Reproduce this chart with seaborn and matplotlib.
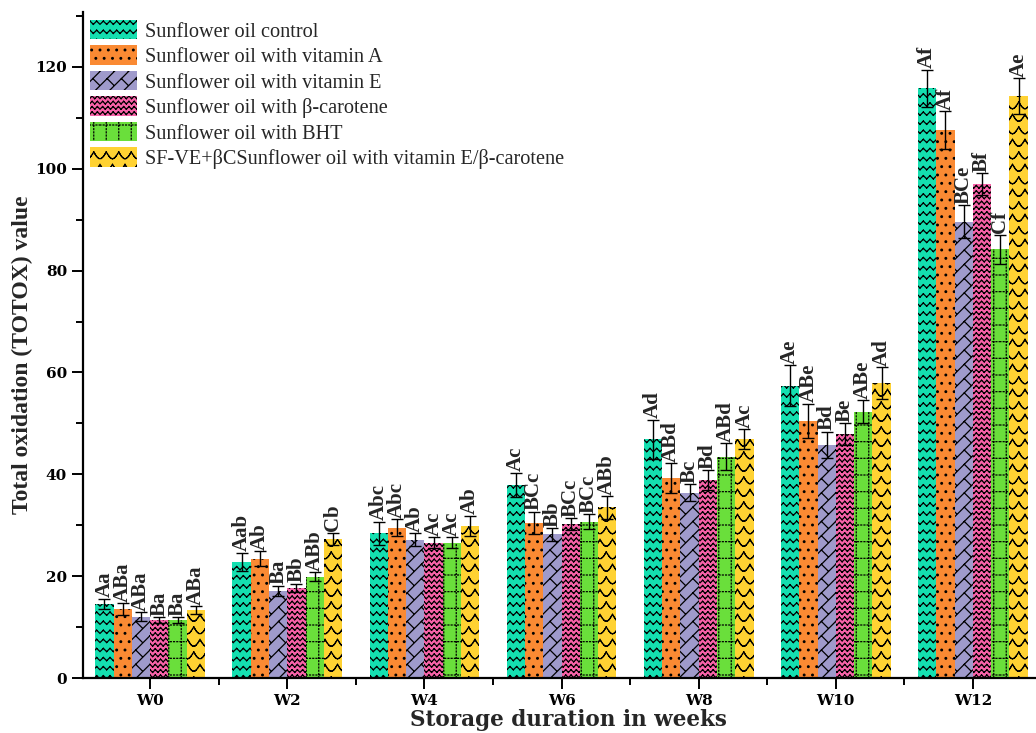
import warnings
import numpy as np
import pandas as pd
import matplotlib
matplotlib.use("Agg")
import matplotlib.pyplot as plt
import matplotlib.hatch as mhatch
from matplotlib.path import Path
from matplotlib.patches import Patch
from matplotlib.ticker import MultipleLocator, FixedLocator
import seaborn as sns

warnings.filterwarnings("ignore", message=".*hatch must consist.*")

# ---- data -------------------------------------------------------------
weeks = ["W0", "W2", "W4", "W6", "W8", "W10", "W12"]
groups = [
    "Sunflower oil control",
    "Sunflower oil with vitamin A",
    "Sunflower oil with vitamin E",
    "Sunflower oil with \u03b2-carotene",
    "Sunflower oil with BHT",
    "SF-VE+\u03b2CSunflower oil with vitamin E/\u03b2-carotene",
]

control = [14.6, 22.8, 28.4, 37.9, 46.9, 57.4, 115.8]
vit_a = [13.5, 23.4, 29.5, 30.5, 39.3, 50.5, 107.6]
vit_e = [12.0, 17.1, 27.2, 28.2, 36.4, 45.8, 89.6]
beta_car = [11.4, 17.7, 26.6, 30.2, 38.9, 47.9, 97.0]
bht = [11.4, 19.9, 26.6, 30.7, 43.5, 52.3, 84.2]
ve_bc = [13.3, 27.3, 29.9, 33.5, 46.9, 57.9, 114.3]

control_sd = [1.0, 1.8, 2.3, 2.4, 3.8, 4.0, 3.7]
vit_a_sd = [1.2, 1.5, 1.7, 2.2, 2.9, 3.4, 3.7]
vit_e_sd = [0.9, 1.0, 1.2, 1.2, 1.7, 2.6, 3.2]
beta_car_sd = [0.6, 0.8, 1.1, 1.2, 1.9, 2.1, 2.2]
bht_sd = [0.5, 0.9, 1.0, 1.5, 2.6, 2.3, 2.9]
ve_bc_sd = [0.8, 1.2, 2.0, 2.2, 2.0, 3.2, 3.5]

control_lbl = ["Aa", "Aab", "Abc", "Ac", "Ad", "Ae", "Af"]
vit_a_lbl = ["ABa", "Ab", "Abc", "BCc", "ABd", "ABe", "Af"]
vit_e_lbl = ["ABa", "Ba", "Ab", "Bb", "Bc", "Bd", "BCe"]
beta_car_lbl = ["Ba", "Bb", "Ac", "BCc", "Bd", "Be", "Bf"]
bht_lbl = ["Ba", "ABb", "Ac", "BCc", "ABd", "ABe", "Cf"]
ve_bc_lbl = ["ABa", "Cb", "Ab", "ABb", "Ac", "Ad", "Ae"]

values = [control, vit_a, vit_e, beta_car, bht, ve_bc]
errors = [control_sd, vit_a_sd, vit_e_sd, beta_car_sd, bht_sd, ve_bc_sd]
letters = [control_lbl, vit_a_lbl, vit_e_lbl, beta_car_lbl, bht_lbl, ve_bc_lbl]

colors = ["#14DFB0", "#FA8A33", "#9F9ACB", "#F862A8", "#6ADF3B", "#FFD233"]
# z: zigzag rows, .: dots, y: branched diagonals, w: herringbone,
# d: dotted grid, u: scallops
hatches = ["z", "..", "y", "w", "d", "u"]


# ---- extra hatch textures ----------------------------------------------
def _zigzag(rows, teeth, amp):
    segs = []
    xs = np.linspace(0, 1, 2 * teeth + 1)
    for i in range(rows):
        y0 = (i + 0.5) / rows
        ys = y0 + np.where(np.arange(len(xs)) % 2 == 0, -amp, amp)
        for k in range(len(xs) - 1):
            segs.append(((xs[k], ys[k]), (xs[k + 1], ys[k + 1])))
    return segs


def _branched_diagonals(n):
    segs = []
    stub = 0.45 / n
    for k in range(-n, n + 1):
        x0 = k / n
        segs.append(((x0, 0.0), (x0 + 1.0, 1.0)))
        for j in range(n):
            px, py = x0 + (j + 0.5) / n, (j + 0.5) / n
            if -0.1 <= px <= 1.1:
                segs.append(((px, py), (px + stub, py - stub)))
    return segs


def _dotted_grid(nx, ny, step=0.032, dot=0.009):
    segs = []
    ts = np.arange(0, 1, step)
    for i in range(nx):
        x = (i + 0.5) / nx
        for t in ts:
            segs.append(((x, t), (x, t + dot)))
    for i in range(ny):
        y = (i + 0.5) / ny
        for t in ts:
            segs.append(((t, y), (t + dot, y)))
    return segs


def _scallops(n, per=10):
    segs = []
    xs = np.linspace(0, 1, n * per + 1)
    h = 0.55 / n
    for i in range(n):
        y_top = (i + 0.85) / n
        off = 0.5 * (i % 2)
        ys = y_top - h * np.abs(np.sin(np.pi * (n * xs + off)))
        for k in range(len(xs) - 1):
            segs.append(((xs[k], ys[k]), (xs[k + 1], ys[k + 1])))
    return segs


class _TextureHatch(mhatch.HatchPatternBase):
    def __init__(self, hatch, density):
        segs = []
        if "z" in hatch:
            segs += _zigzag(11, 15, 0.016)
        if "w" in hatch:
            segs += _zigzag(19, 19, 0.013)
        if "y" in hatch:
            segs += _branched_diagonals(7)
        if "d" in hatch:
            segs += _dotted_grid(8, 6)
        if "u" in hatch:
            segs += _scallops(8)
        self.segs = segs
        self.num_vertices = 2 * len(segs)

    def set_vertices_and_codes(self, vertices, codes):
        for i, (a, b) in enumerate(self.segs):
            vertices[2 * i] = a
            vertices[2 * i + 1] = b
            codes[2 * i] = Path.MOVETO
            codes[2 * i + 1] = Path.LINETO


mhatch._hatch_types.append(_TextureHatch)

# ---- frame --------------------------------------------------------------
sns.set_style("ticks")
plt.rcParams["font.family"] = ["DejaVu Serif"]
plt.rcParams["hatch.linewidth"] = 0.9
plt.rcParams["axes.linewidth"] = 1.6

rows = []
for g, vals in zip(groups, values):
    for w, v in zip(weeks, vals):
        rows.append({"week": w, "group": g, "value": v})
df = pd.DataFrame(rows)

fig = plt.figure(figsize=(10.36, 7.33), dpi=100)
ax = fig.add_axes([83 / 1036, 1 - 678 / 733, 1 - 83 / 1036, (678 - 12) / 733])

sns.barplot(data=df, x="week", y="value", hue="group", hue_order=groups,
            order=weeks, palette=colors, saturation=1, errorbar=None,
            width=0.8, legend=False, ax=ax)

label_font = dict(family="Liberation Serif", weight="bold", size=15)
for cont, hatch, vals, errs, lbls in zip(ax.containers, hatches, values,
                                         errors, letters):
    xs = []
    for bar in cont:
        bar.set_hatch(hatch)
        bar.set_edgecolor("black")
        bar.set_linewidth(0)
        xs.append(bar.get_x() + bar.get_width() / 2)
    ax.errorbar(xs, vals, yerr=errs, fmt="none", ecolor="black",
                elinewidth=1.0, capsize=4, capthick=1.0, zorder=4)
    for x, v, e, t in zip(xs, vals, errs, lbls):
        ax.annotate(t, (x, v + e), xytext=(0, 1), textcoords="offset points",
                    rotation=90, ha="center", va="bottom", **label_font)

ax.set_xlim(-0.49, 6.46)
ax.set_ylim(0, 130.8)
ax.yaxis.set_major_locator(MultipleLocator(20))
ax.yaxis.set_minor_locator(MultipleLocator(10))
ax.xaxis.set_minor_locator(FixedLocator(np.arange(-0.5, 7, 1)))
ax.tick_params(axis="both", which="major", direction="out", length=8,
               width=1.4, colors="black", labelsize=11)
ax.tick_params(axis="both", which="minor", direction="out", length=5,
               width=1.4, colors="black")
for lab in ax.get_xticklabels() + ax.get_yticklabels():
    lab.set_fontweight("bold")
    lab.set_family("DejaVu Serif")
sns.despine(ax=ax)
for sp in ("left", "bottom"):
    ax.spines[sp].set_color("black")
    ax.spines[sp].set_linewidth(1.6)

ax.set_xlabel("Storage duration in weeks", family="DejaVu Serif",
              weight="bold", size=15.5)
ax.xaxis.set_label_coords(0.509, -0.046)
ax.set_ylabel("Total oxidation (TOTOX) value", family="Liberation Serif",
              weight="bold", size=17)
ax.yaxis.set_label_coords(-0.052, 0.485)

handles = [Patch(facecolor=c, edgecolor="black", linewidth=0, hatch=h)
           for c, h in zip(colors, hatches)]
ax.legend(handles, groups, loc="upper left",
          bbox_to_anchor=(7 / 953, 1 - 8 / 666), frameon=False,
          prop=dict(family="Liberation Serif", size=14.6),
          handlelength=2.3, handleheight=1.1, handletextpad=0.4,
          labelspacing=0.19, borderpad=0, borderaxespad=0)

fig.savefig("out.png", dpi=100)
